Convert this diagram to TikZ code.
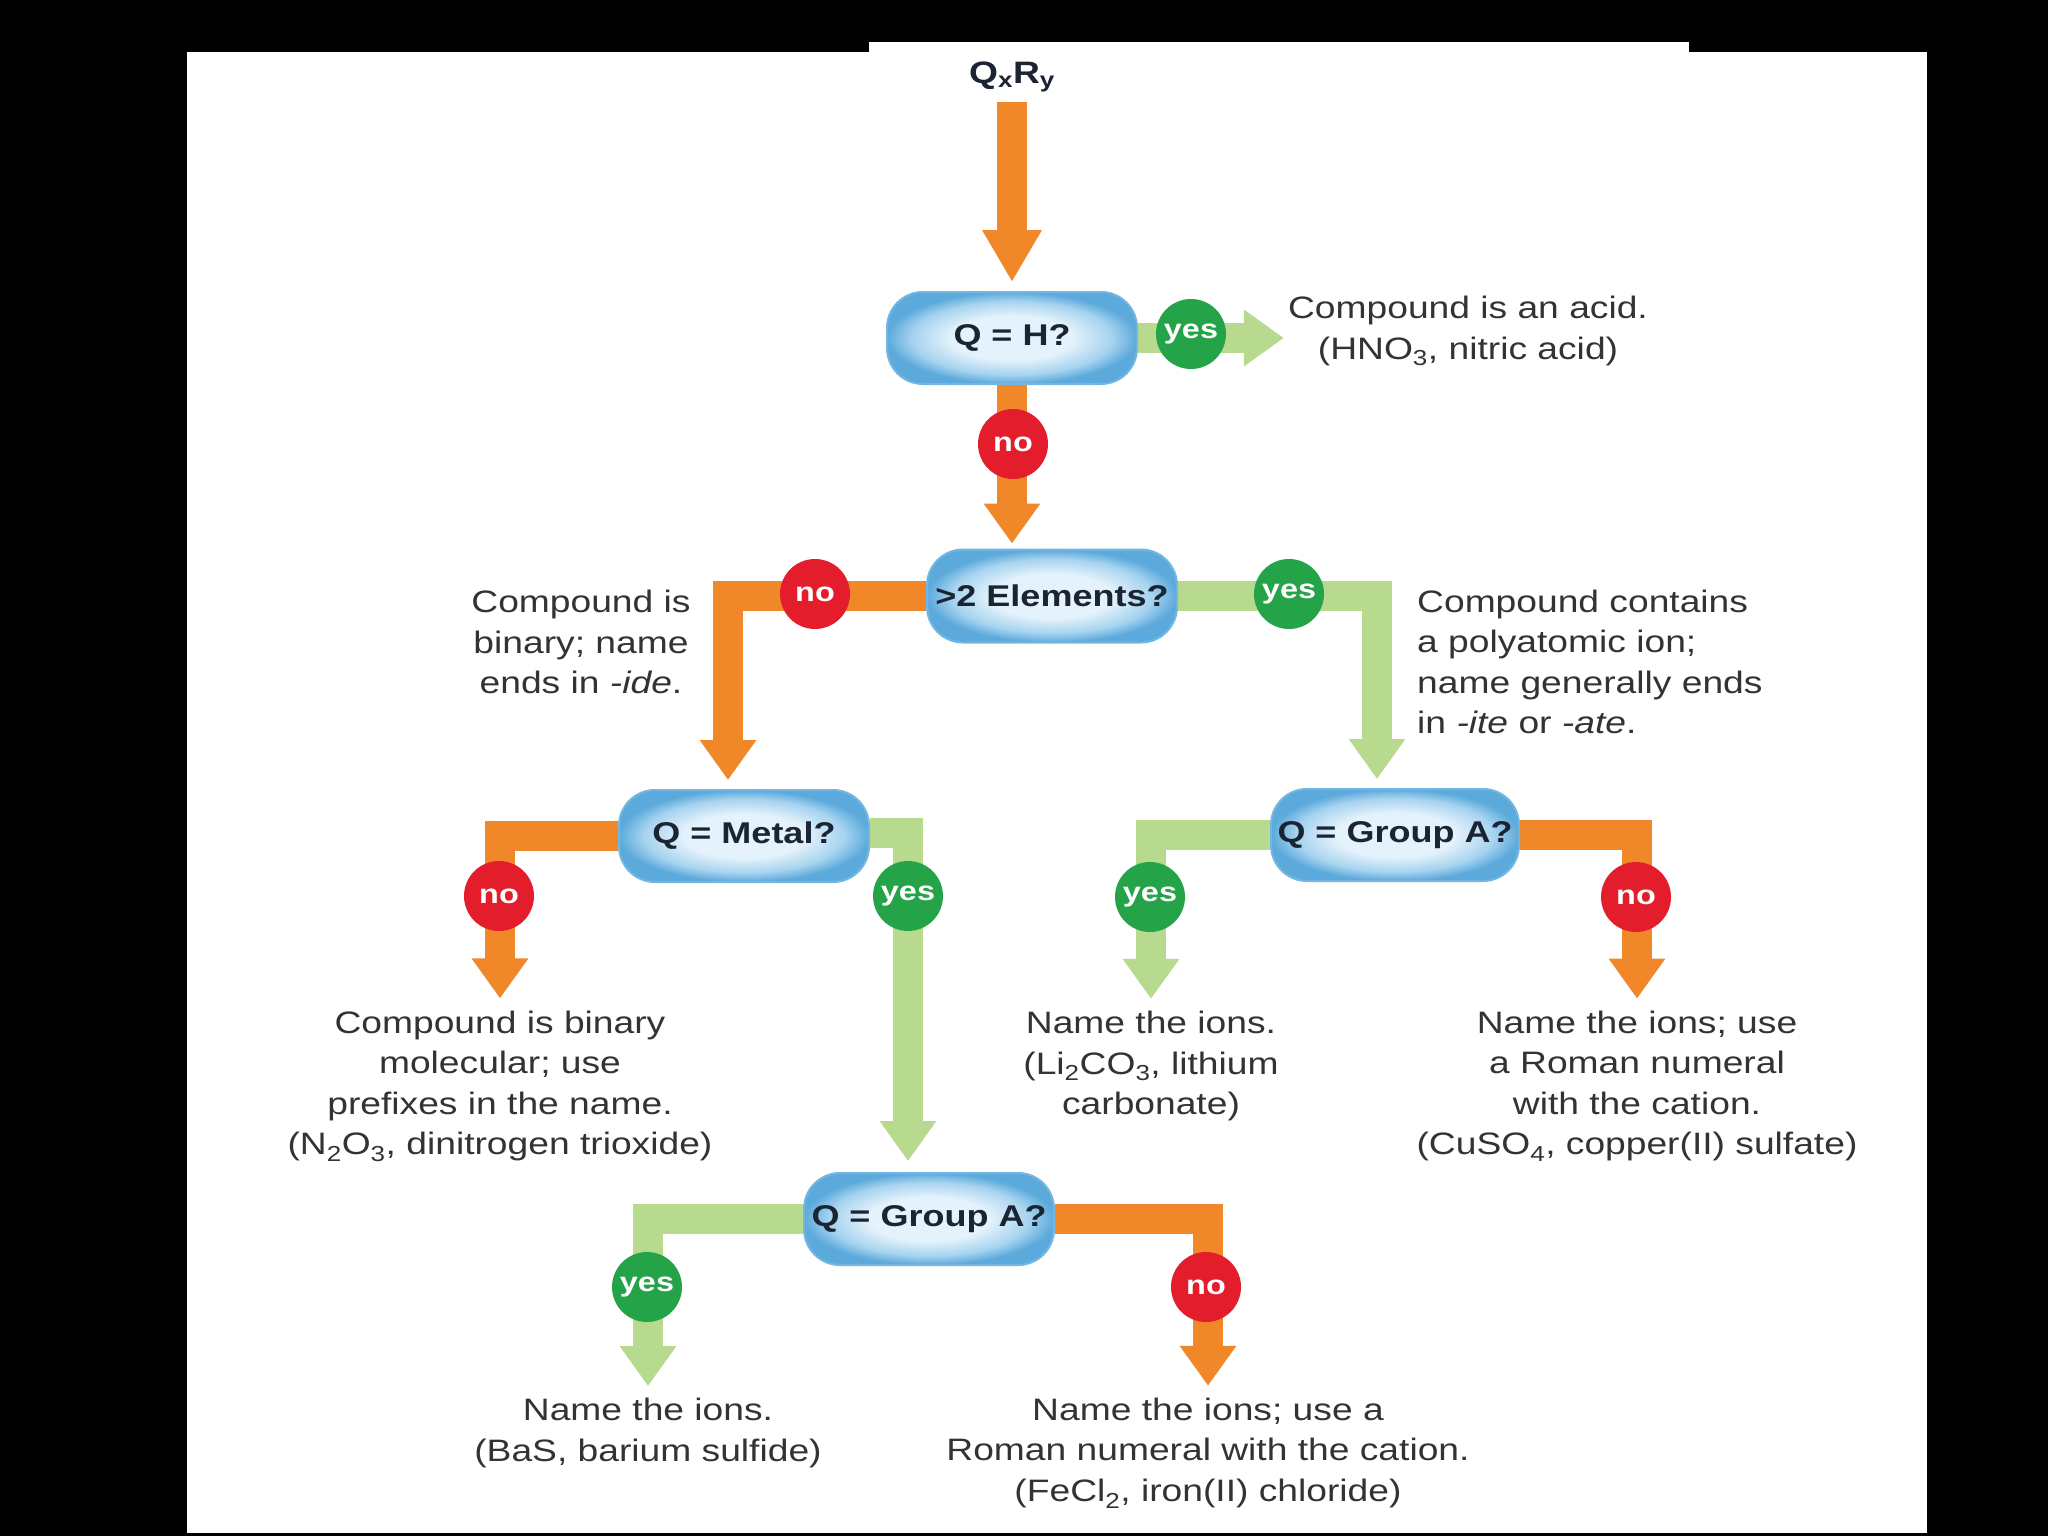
\documentclass[tikz,border=0pt]{standalone}
\usepackage{fontspec}
\setmainfont{Liberation Sans}[FakeStretch=1.2]
\usetikzlibrary{arrows.meta}
\definecolor{orng}{HTML}{F0882A}
\definecolor{lgrn}{HTML}{B8DA8E}
\definecolor{yesg}{HTML}{25A348}
\definecolor{nored}{HTML}{E31D2B}
\definecolor{qlight}{HTML}{E4F2FB}
\definecolor{qmid}{HTML}{A6D3EF}
\definecolor{qdark}{HTML}{5CAADC}
\definecolor{qedge}{HTML}{72B7E2}
\definecolor{qtext}{HTML}{1B2433}
\definecolor{txtc}{HTML}{333333}
\pgfdeclareradialshading{qshade}{\pgfpoint{0bp}{0bp}}{color(0bp)=(qlight); color(12bp)=(qlight); color(20bp)=(qmid); color(25bp)=(qdark); color(50bp)=(qdark)}
\pgfdeclarelayer{back}
\pgfdeclarelayer{bg}
\pgfsetlayers{back,bg,main}
\newcommand{\sbs}[1]{\textsubscript{#1}}
\begin{document}
\begin{tikzpicture}[x=1pt,y=-1pt,
  qbox/.style={rectangle, rounded corners=36pt, minimum width=250pt, minimum height=92pt,
    shading=qshade, draw=qedge, line width=2pt, text=qtext, inner sep=0pt,
    font=\fontsize{30pt}{36pt}\selectfont\bfseries},
  bub/.style={circle, minimum size=70pt, inner sep=0pt, text=white,
    font=\fontsize{27pt}{27pt}\selectfont\bfseries},
  yesb/.style={bub, fill=yesg},
  nob/.style={bub, fill=nored},
  txt/.style={text=txtc, align=center, inner sep=4pt,
    font=\fontsize{31pt}{40.5pt}\selectfont},
  oarr/.style={draw=orng, line width=30pt, -{Triangle[length=40pt,width=54pt]}},
  garr/.style={draw=lgrn, line width=30pt, -{Triangle[length=40pt,width=54pt]}}
]
\begin{pgfonlayer}{back}
  \fill[black] (0,0) rectangle (2048,1536);
  \fill[white] (187,52) rectangle (1927,1533);
  \fill[white] (869,42) rectangle (1689,53);
\end{pgfonlayer}
\useasboundingbox (0,0) rectangle (2048,1536);

% title
\node[text=qtext, font=\fontsize{31pt}{31pt}\selectfont\bfseries, inner sep=2pt] (qxry) at (1012,77) {Q\sbs{x}R\sbs{y}};

% decision boxes
\node[qbox] (qh) at (1012,338) {Q = H?};
\node[qbox, minimum height=93pt] (el) at (1052,596) {>2 Elements?};
\node[qbox] (metal) at (744,836) {Q = Metal?};
\node[qbox, minimum width=248pt] (ga1) at (1395,835) {Q = Group A?};
\node[qbox] (ga2) at (929,1219) {Q = Group A?};

% texts
\node[txt] (acid) at (1468,331) {Compound is an acid.\\(HNO\sbs{3}, nitric acid)};
\node[txt] (ide) at (581,642) {Compound is\\binary; name\\ends in \textit{-ide}.};
\node[txt, align=left, anchor=west] (poly) at (1413,662) {Compound contains\\a polyatomic ion;\\name generally ends\\in \textit{-ite} or \textit{-ate}.};
\node[txt] (binmol) at (500,1086) {Compound is binary\\molecular; use\\prefixes in the name.\\(N\sbs{2}O\sbs{3}, dinitrogen trioxide)};
\node[txt] (ions1) at (1151,1066) {Name the ions.\\(Li\sbs{2}CO\sbs{3}, lithium\\carbonate)};
\node[txt] (roman1) at (1637,1086) {Name the ions; use\\a Roman numeral\\with the cation.\\(CuSO\sbs{4}, copper(II) sulfate)};
\node[txt] (ions2) at (648,1433) {Name the ions.\\(BaS, barium sulfide)};
\node[txt] (roman2) at (1208,1453) {Name the ions; use a\\Roman numeral with the cation.\\(FeCl\sbs{2}, iron(II) chloride)};

% connectors
\begin{pgfonlayer}{bg}
  \draw[oarr, -{Triangle[length=52pt,width=56pt]}, shorten <=8pt, shorten >=9pt] (qxry.south) -- (qh.north);
  \draw[garr] (qh.east) -- (qh.east -| acid.west);
  \draw[oarr, shorten >=5pt] (qh.south) -- (qh.south |- el.north);
  \draw[oarr, shorten >=9pt] (el.west) -| ([xshift=-16pt]metal.north);
  \draw[garr, shorten >=9pt] (el.east) -| ([xshift=-18pt]ga1.north);
  \draw[oarr, shorten >=8pt] (metal.west) -| (binmol.north);
  \draw[garr, shorten >=11pt] ([yshift=3pt]metal.east) -| ([xshift=-21pt]ga2.north);
  \draw[garr, shorten >=8pt] (ga1.west) -| (ions1.north);
  \draw[oarr, shorten >=8pt] (ga1.east) -| (roman1.north);
  \draw[garr, shorten >=8pt] (ga2.west) -| (ions2.north);
  \draw[oarr, shorten >=8pt] (ga2.east) -| (roman2.north);
\end{pgfonlayer}

% bubbles
\node[yesb] (y1) at (1191,334) {yes};
\node[nob] (n1) at (1013,444) {no};
\node[nob] (n2) at (815,594) {no};
\node[yesb] (y2) at (1289,594) {yes};
\node[nob] (n3) at (499,896) {no};
\node[yesb] (y3) at (908,896) {yes};
\node[yesb] (y4) at (1150,897) {yes};
\node[nob] (n4) at (1636,897) {no};
\node[yesb] (y5) at (647,1287) {yes};
\node[nob] (n5) at (1206,1287) {no};
\end{tikzpicture}
\end{document}
